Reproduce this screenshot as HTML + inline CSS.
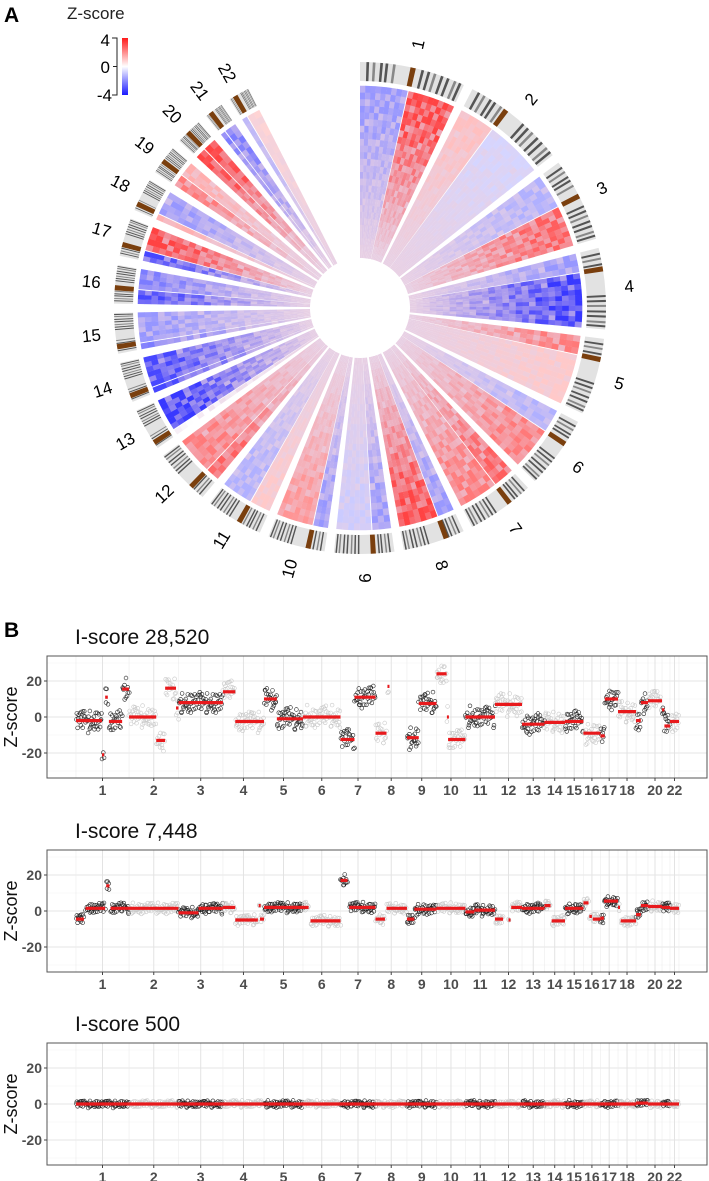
<!DOCTYPE html>
<html><head><meta charset="utf-8"><style>
body{margin:0;background:#fff}
svg{display:block;font-family:"Liberation Sans",Arial,sans-serif}
</style></head><body>
<svg id="fig" width="709" height="1181" viewBox="0 0 709 1181" xmlns="http://www.w3.org/2000/svg">
<rect width="709" height="1181" fill="#fff"/>
<text x="4" y="22" font-size="21" font-weight="bold">A</text>
<text x="67" y="19" font-size="17" fill="#222">Z-score</text>
<defs><linearGradient id="cb" x1="0" y1="0" x2="0" y2="1"><stop offset="0" stop-color="#ff1a1a"/><stop offset="0.5" stop-color="#ffffff"/><stop offset="1" stop-color="#1a1aff"/></linearGradient></defs>
<rect x="122" y="38" width="6" height="57" fill="url(#cb)"/>
<path d="M112,38H117V95H112M113,66.5H117" fill="none" stroke="#222" stroke-width="1"/>
<text x="110" y="46" font-size="17" text-anchor="end">4</text>
<text x="110" y="73" font-size="17" text-anchor="end">0</text>
<text x="112" y="101" font-size="17" text-anchor="end">-4</text>
<g id="circos"></g>
<text x="4" y="637" font-size="21" font-weight="bold">B</text>
<g id="plots"></g>
</svg>
<script>
// ---------- Panel A data ----------
const circChroms = ["1","2","3","4","5","6","7","8","9","10","11","12","13","14","15","16","17","18","19","20","21","22"];
const circLen = [249,243,198,191,181,171,159,146,141,135,135,133,100,95,95,90,90,78,70,63,45,50];
const centroFrac = [0.5,0.38,0.46,0.26,0.27,0.35,0.35,0.3,0.35,0.29,0.4,0.27,0.15,0.16,0.17,0.41,0.3,0.2,0.45,0.45,0.3,0.3];
const zArmP = [-2,1.2,-1.5,-2,2.5,-1.5,3,-2,-2,-2,1,3,0,-3.5,-2.5,-3.5,-3.5,1.5,2.5,3.5,-2.5,-1.5];
const zArmQ = [3.5,-0.8,3,-3.8,1,2.5,2.5,3.5,-1,2,-1.5,2.5,-3.8,-3.5,-2,-2.5,3.5,-2,1.5,3.5,-2.5,0.8];
const rowMod = [1,0.55,1,0.85,0.45,1,0.9,0.6,1,0.75,0.95,0.5,1,0.85,0.65,1,0.9,0.7,1,0.6,0.95,0.8];
const colMod = [1,0.6,0.9,0.75,1,0.5,0.85,0.95,0.65,1,0.8,0.55];
const bandFrac = [0.06,0.12,0.19,0.24,0.31,0.58,0.64,0.7,0.77,0.83,0.9,0.95];

const NS="http://www.w3.org/2000/svg";
const cx=360, cy=308, R0=50, R1=222, I0=227, I1=246, LR=270;
const SPAN=333, GAP=2.2;
function pol(r,a){const t=a*Math.PI/180;return [cx+r*Math.sin(t), cy-r*Math.cos(t)];}
function sector(r0,r1,a0,a1){
  const p0=pol(r1,a0),p1=pol(r1,a1),p2=pol(r0,a1),p3=pol(r0,a0);const L=(a1-a0)>180?1:0;
  return `M${p0[0].toFixed(2)},${p0[1].toFixed(2)}A${r1},${r1} 0 ${L} 1 ${p1[0].toFixed(2)},${p1[1].toFixed(2)}L${p2[0].toFixed(2)},${p2[1].toFixed(2)}A${r0},${r0} 0 ${L} 0 ${p3[0].toFixed(2)},${p3[1].toFixed(2)}Z`;
}
function mix(a,b,t){return a.map((v,i)=>Math.round(v+(b[i]-v)*t));}
function zcol(z){const w=Math.min(1,Math.abs(z)/4);return z>=0?mix([255,255,255],[255,40,40],w):mix([255,255,255],[45,45,255],w);}
const base=[232,208,228];
const circ=document.getElementById('circos');
const totLen=circLen.reduce((a,b)=>a+b,0);
const dataSpan=SPAN-GAP*(circLen.length-1);
let ang=0;
const NR=26;
circLen.forEach((len,ci)=>{
  const a0=ang, a1=ang+len/totLen*dataSpan; ang=a1+GAP;
  const ac=a0+(a1-a0)*centroFrac[ci];
  const arms=[[a0,ac-0.15,zArmP[ci]],[ac+0.15,a1,zArmQ[ci]]];
  arms.forEach((arm,ai)=>{
    const [b0,b1,z]=arm; const tgt=zcol(z);
    const nc=Math.max(1,Math.round((b1-b0)/1.4));
    for(let c=0;c<nc;c++){
      const c0=b0+(b1-b0)*c/nc, c1=b0+(b1-b0)*(c+1)/nc;
      for(let i=0;i<NR;i++){
        const r0=R0+(R1-R0)*i/NR, r1=R0+(R1-R0)*(i+1)/NR;
        const t=(i+0.5)/NR;
        const w=Math.pow(t,1.1)*rowMod[(i+c*3+ci)%rowMod.length]*colMod[(c+i*5+ci*2)%colMod.length];
        const col=mix(base,tgt,Math.min(1,w*1.35));
        const p=document.createElementNS(NS,'path');
        p.setAttribute('d',sector(r0,r1+0.3,c0,c1+0.05));
        p.setAttribute('fill',`rgb(${col})`);
        
        
        circ.appendChild(p);
      }
    }
  });
  const g=document.createElementNS(NS,'path');
  g.setAttribute('d',sector(I0,I1,a0,a1));g.setAttribute('fill','#e2e2e2');
  
  
  circ.appendChild(g);
  bandFrac.forEach((f,bi)=>{
    const ba=a0+(a1-a0)*f; if(Math.abs(ba-ac)<(a1-a0)*0.05) return;
    const b=document.createElementNS(NS,'path');
    b.setAttribute('d',sector(I0,I1,ba,ba+Math.min(0.8,(a1-a0)*0.025)));
    b.setAttribute('fill',bi%3===1?'#888':'#555');
    
    
    circ.appendChild(b);
  });
  const cw=Math.max(1.2,(a1-a0)*0.05);
  const ce=document.createElementNS(NS,'path');
  ce.setAttribute('d',sector(I0,I1,ac-cw/2,ac+cw/2));ce.setAttribute('fill','#7a3f0e');
  
  
  circ.appendChild(ce);
  const am=(a0+a1)/2; const lp=pol(LR,am);
  const rot=am<=180?am-90:am+90;
  const tx=document.createElementNS(NS,'text');
  tx.setAttribute('x',lp[0].toFixed(1));tx.setAttribute('y',lp[1].toFixed(1));
  tx.setAttribute('font-size','17');tx.setAttribute('text-anchor','middle');tx.setAttribute('dominant-baseline','central');
  tx.setAttribute('transform',`rotate(${rot.toFixed(1)} ${lp[0].toFixed(1)} ${lp[1].toFixed(1)})`);
  tx.textContent=circChroms[ci];
  
  
  circ.appendChild(tx);
});

// ---------- Panel B data ----------
const chromLen = [253,236,212,196,186,179,167,150,141,138,141,129,107,98,88,81,84,86,57,67,38,43];
const tickChroms = [1,2,3,4,5,6,7,8,9,10,11,12,13,14,15,16,17,18,20,22];
const yTicks = [20,0,-20];
const plotTitles = ["I-score 28,520","I-score 7,448","I-score 500"];
const seg1 = [[1,0,0.49,-2],[1,0.49,0.53,-21],[1,0.55,0.6,11],[1,0.62,0.87,-2.5],[1,0.87,1,15.5],
 [2,0,0.55,0],[2,0.55,0.73,-13],[2,0.73,0.95,16],[2,0.95,1,5],[3,0,1,8],[4,0,0.3,14],[4,0.3,1,-2.5],
 [5,0,0.33,10],[5,0.33,1,-1],[6,0,1,0],[7,0,0.4,-12.5],[7,0.4,1,11],[8,0,0.35,-9],[8,0.38,0.42,17],
 [9,0,0.4,-11.5],[9,0.4,1,7.5],[10,0,0.35,24],[10,0.36,0.38,0],[10,0.4,1,-12.5],[11,0,1,0],[12,0,1,7],
 [13,0,1,-4],[14,0,1,-3],[15,0,1,-2.5],[16,0,1,-9],[17,0,0.25,-10.5],[17,0.25,1,10],[18,0,1,3],
 [19,0,0.4,-2],[19,0.4,1,8],[20,0,1,9],[21,0,0.3,4],[21,0.3,1,-5],[22,0,1,-2.5]];
const seg2 = [[1,0,0.15,-4.5],[1,0.18,0.55,1.5],[1,0.57,0.63,14],[1,0.65,1,1.5],[2,0,1,1.5],
 [3,0,0.45,-1],[3,0.45,1,1.5],[4,0,0.3,2],[4,0.3,0.85,-5],[4,0.87,0.9,3],[4,0.9,1,-4.5],[5,0,1,2],
 [6,0,0.15,2],[6,0.2,1,-5.5],[7,0,0.2,17],[7,0.25,1,2],[8,0,0.3,-4.5],[8,0.35,1,1.5],[9,0,0.25,-4.5],
 [9,0.25,1,1],[10,0,1,1.5],[11,0,0.3,-0.5],[11,0.3,1,0.5],[12,0,0.3,-4.5],[12,0.5,0.55,-5],[12,0.6,1,2],
 [13,0,1,1.5],[14,0,0.3,3],[14,0.35,1,-5.5],[15,0,1,1.5],[16,0,0.3,4.5],[16,0.35,0.5,-3],[16,0.55,1,-4.5],
 [17,0,0.2,-4],[17,0.2,1,5.5],[18,0,0.1,2],[18,0.15,1,-5.5],[19,0,0.4,-2],[19,0.4,1,3],[20,0,1,2.5],
 [21,0,1,2],[22,0,1,1.5]];
const seg3 = [[1,0,1,0],[2,0,1,0],[3,0,1,0],[4,0,1,0],[5,0,1,0],[6,0,1,0],[7,0,1,0],[8,0,1,0],[9,0,1,0],
 [10,0,1,0],[11,0,1,0],[12,0,1,0],[13,0,1,0],[14,0,1,0],[15,0,1,0],[16,0,1,0],[17,0,1,0],[18,0,1,0],
 [19,0,1,0.5],[20,0,1,0],[21,0,1,0],[22,0,1,0]];
const plotSegs = [seg1,seg2,seg3];
const plotSpread = [5,2.5,1.6];
const jitter = [0.12,-0.55,0.83,-0.21,0.47,-0.92,0.05,0.66,-0.38,0.29,-0.74,0.91,-0.08,0.35,-0.61,0.18,-0.45,0.72,-0.15,0.58,-0.99,0.24,-0.31,0.87,-0.67,0.41,0.02,-0.83,0.53,-0.26,0.78,-0.49,0.14,-0.7,0.95,-0.12,0.36,-0.58,0.63,-0.04];

const plotTops=[656,850,1043], PH=122, PL=47, PR=707, XL=76, XR=679;
const cum=[0]; chromLen.forEach(l=>cum.push(cum[cum.length-1]+l));
const totG=cum[cum.length-1];
function X(chr,f){return XL+(cum[chr-1]+f*chromLen[chr-1])*(XR-XL)/totG;}
const plots=document.getElementById('plots');
function el(tag,attrs,parent){const e=document.createElementNS(NS,tag);for(const k in attrs)e.setAttribute(k,attrs[k]);parent.appendChild(e);return e;}
plotTops.forEach((T,pi)=>{
  const g=el('g',{},plots);
  
  
  const Y=v=>T+PH/2-v*1.8;
  const tt=el('text',{x:75,y:T-12,'font-size':21,fill:'#111'},g);
  tt.textContent=plotTitles[pi];
  
  
  el('rect',{x:PL,y:T,width:PR-PL,height:PH,fill:'#fff'},g);
  [-30,-10,10,30].forEach(v=>el('line',{x1:PL,x2:PR,y1:Y(v),y2:Y(v),stroke:'#f2f2f2','stroke-width':0.6},g));
  yTicks.forEach(v=>el('line',{x1:PL,x2:PR,y1:Y(v),y2:Y(v),stroke:'#e6e6e6','stroke-width':1},g));
  for(let c=1;c<=chromLen.length;c++){
    el('line',{x1:X(c,0),x2:X(c,0),y1:T,y2:T+PH,stroke:'#ececec','stroke-width':0.6},g);
  }
  el('line',{x1:XR,x2:XR,y1:T,y2:T+PH,stroke:'#ececec','stroke-width':0.6},g);
  tickChroms.forEach(c=>el('line',{x1:X(c,0.5),x2:X(c,0.5),y1:T,y2:T+PH,stroke:'#e3e3e3','stroke-width':1},g));
  const segs=plotSegs[pi]; let k=0;
  segs.forEach((s,si)=>{
    const [c,f0,f1,z]=s; const x0=X(c,f0),x1=X(c,f1); const n=Math.max(2,Math.round((x1-x0)*1.6));
    const col=c%2===1?'#222':'#c9c9c9';
    for(let i=0;i<n;i++){
      const jx=jitter[(i*3+si)%jitter.length], jy=jitter[(i*7+si*5+k)%jitter.length];
      const x=x0+(x1-x0)*(i+0.5)/n+jx*0.6;
      const y=Y(z+plotSpread[pi]*jy*(1+0.4*Math.abs(jitter[(i+si)%jitter.length])));
      const p=el('circle',{cx:x.toFixed(1),cy:y.toFixed(1),r:1.9,fill:'none',stroke:col,'stroke-width':0.6},g);
      
      
    }
    k+=3;
  });
  segs.forEach(s=>{
    const [c,f0,f1,z]=s;
    const l=el('line',{x1:X(c,f0),x2:Math.max(X(c,f1),X(c,f0)+2),y1:Y(z),y2:Y(z),stroke:'#e8191c','stroke-width':3.2},g);
    
    
  });
  el('rect',{x:PL,y:T,width:PR-PL,height:PH,fill:'none',stroke:'#555','stroke-width':1},g);
  yTicks.forEach(v=>{
    el('line',{x1:PL-3,x2:PL,y1:Y(v),y2:Y(v),stroke:'#444'},g);
    const t=el('text',{x:PL-5,y:Y(v)+5,'font-size':14,'font-weight':'bold','text-anchor':'end',fill:'#4d4d4d'},g);
    t.textContent=v;
    
    
  });
  tickChroms.forEach(c=>{
    const x=X(c,0.5);
    el('line',{x1:x,x2:x,y1:T+PH,y2:T+PH+3,stroke:'#444'},g);
    const t=el('text',{x:x,y:T+PH+17,'font-size':14,'font-weight':'bold','text-anchor':'middle',fill:'#4d4d4d'},g);
    t.textContent=c;
    
    
  });
  const yt=el('text',{x:0,y:0,'font-size':18,'text-anchor':'middle',fill:'#111',transform:`translate(17 ${T+PH/2}) rotate(-90)`},g);
  yt.textContent='Z-score';
  
  
});
</script>
</body></html>
